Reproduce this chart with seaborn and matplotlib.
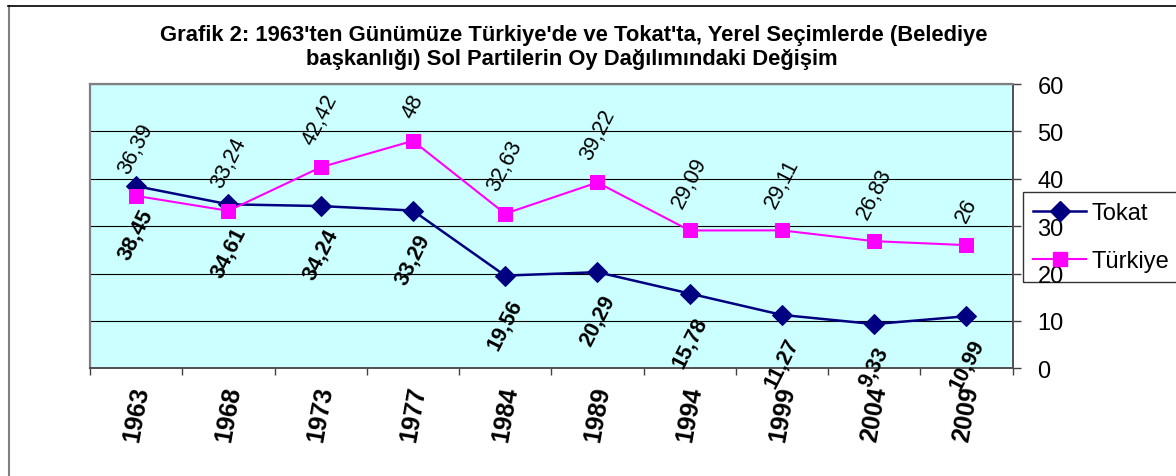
import numpy as np
import pandas as pd
import matplotlib
matplotlib.use("Agg")
import matplotlib.pyplot as plt
from matplotlib.lines import Line2D
import seaborn as sns

# Election years and left-party vote shares (mayoral elections, %)
years = ['1963', '1968', '1973', '1977', '1984', '1989', '1994', '1999', '2004', '2009']
tokat = [38.45, 34.61, 34.24, 33.29, 19.56, 20.29, 15.78, 11.27, 9.33, 10.99]
turkiye = [36.39, 33.24, 42.42, 48, 32.63, 39.22, 29.09, 29.11, 26.83, 26]
y_ticks = [0, 10, 20, 30, 40, 50, 60]

title_lines = [
    "Grafik 2: 1963'ten Günümüze Türkiye'de ve Tokat'ta, Yerel Seçimlerde (Belediye",
    "başkanlığı) Sol Partilerin Oy Dağılımındaki Değişim",
]

plt.rcParams['font.family'] = ['Liberation Sans', 'DejaVu Sans']

df = pd.DataFrame({'Yıl': years, 'Tokat': tokat, 'Türkiye': turkiye})
df['x'] = np.arange(len(df))

W, H = 1176, 477
fig = plt.figure(figsize=(W / 100, H / 100), dpi=100)
fig.patch.set_facecolor('white')

left, right, top, bottom = 90, 1012.5, 85, 369.3
ax = fig.add_axes([left / W, 1 - bottom / H, (right - left) / W, (bottom - top) / H])
ax.set_facecolor('#CCFFFF')

navy = '#000080'
magenta = '#FF00FF'

sns.lineplot(data=df, x='x', y='Tokat', ax=ax, color=navy, lw=1.8,
             marker='D', markersize=10, markeredgecolor=navy,
             markerfacecolor=navy, zorder=3)
sns.lineplot(data=df, x='x', y='Türkiye', ax=ax, color=magenta, lw=1.5,
             marker='s', markersize=10.5, markeredgecolor=magenta,
             markerfacecolor=magenta, zorder=4)

# value labels: Türkiye above its points, Tokat below (bold)
fmt = lambda v: f"{v:g}".replace('.', ',')
gap = 14
angle = 63
for i, v in enumerate(turkiye):
    ax.annotate(fmt(v), xy=(i, v), xytext=(0, gap), textcoords='offset points',
                ha='center', va='bottom', rotation=angle, fontsize=15.5,
                color='black', annotation_clip=False, zorder=6)
for i, v in enumerate(tokat):
    ax.annotate(fmt(v), xy=(i, v), xytext=(0, -gap), textcoords='offset points',
                ha='center', va='top', rotation=angle, fontsize=15.5,
                fontweight='bold', color='black', annotation_clip=False, zorder=6)

ax.set_xlim(-0.5, len(years) - 0.5)
ax.set_ylim(y_ticks[0], y_ticks[-1])
ax.set_xlabel('')
ax.set_ylabel('')

# y axis on the right
ax.yaxis.tick_right()
ax.set_yticks(y_ticks)
ax.set_yticklabels([str(t) for t in y_ticks], fontsize=17)
ax.tick_params(axis='y', length=6, width=1, color='#404040', pad=12, right=True, left=False)
ax.yaxis.grid(True, color='black', lw=0.8)
ax.set_axisbelow(True)

# category labels centred, ticks on category boundaries
ax.set_xticks(df['x'])
ax.set_xticklabels(years, fontsize=18, fontweight='bold', rotation=80,
                   ha='center', va='top', rotation_mode='default')
ax.set_xticks(np.arange(-0.5, len(years)), minor=True)
ax.tick_params(axis='x', which='major', length=0, pad=11)
ax.tick_params(axis='x', which='minor', length=5, width=1, color='#404040')
ax.xaxis.grid(False)

for side in ('left', 'top'):
    ax.spines[side].set_color('#808080')
    ax.spines[side].set_linewidth(1.6)
for side in ('right', 'bottom'):
    ax.spines[side].set_color('#505050')
    ax.spines[side].set_linewidth(1.4)

# legend
handles = [
    Line2D([], [], color=navy, lw=1.8, marker='D', markersize=10, markerfacecolor=navy),
    Line2D([], [], color=magenta, lw=1.5, marker='s', markersize=10.5, markerfacecolor=magenta),
]
leg = fig.legend(handles, ['Tokat', 'Türkiye'], loc='upper left',
                 bbox_to_anchor=(1022.7 / W, 1 - 192.7 / H), bbox_transform=fig.transFigure,
                 borderaxespad=0, fontsize=17, handlelength=2.25, handletextpad=0.2,
                 labelspacing=1.08, borderpad=0.45, fancybox=False, frameon=True,
                 facecolor='none', edgecolor='black')
leg.get_frame().set_linewidth(1.0)

# title
fig.text(574 / W, 1 - 35 / H, title_lines[0], ha='center', va='center',
         fontsize=15.8, fontweight='bold')
fig.text(572 / W, 1 - 60 / H, title_lines[1], ha='center', va='center',
         fontsize=15.8, fontweight='bold')

# chart frame
fig.add_artist(Line2D([8.5 / W, 8.5 / W], [0, 1 - 6.5 / H], transform=fig.transFigure,
                      color='#808080', lw=1.5))
fig.add_artist(Line2D([8 / W, 1], [1 - 6.5 / H, 1 - 6.5 / H], transform=fig.transFigure,
                      color='black', lw=1.2))

fig.savefig('out.png', dpi=100)
